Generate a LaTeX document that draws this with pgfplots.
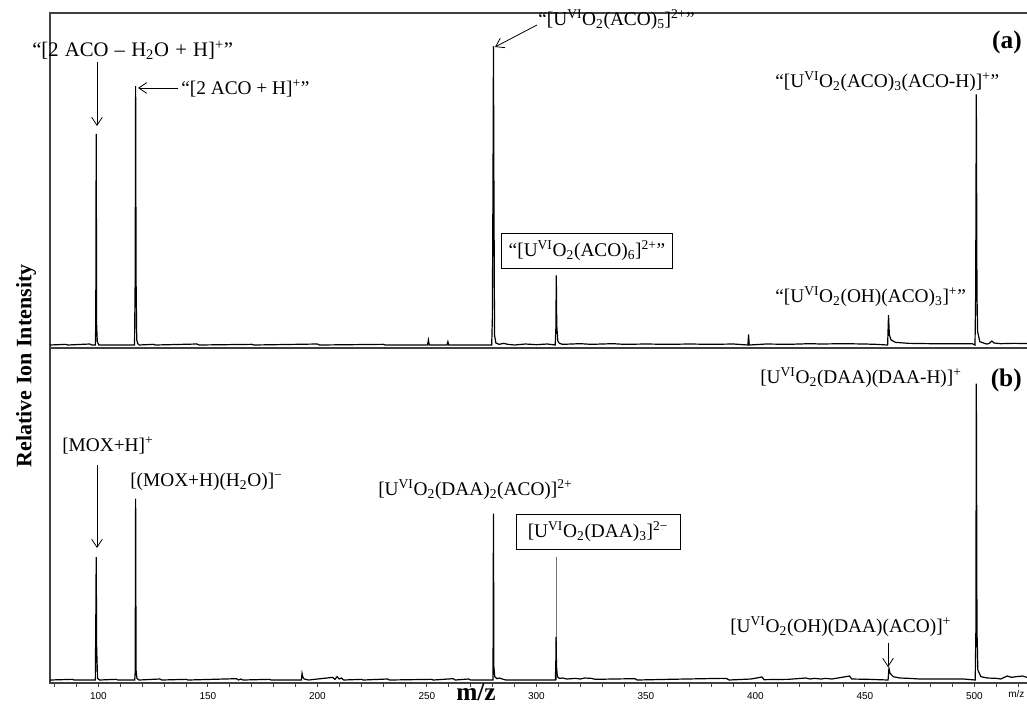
\documentclass[border=0pt]{standalone}
\usepackage{fontspec}
\setmainfont{Liberation Serif}
\newfontfamily\ticksans{Liberation Sans}
\usepackage{pgfplots}
\pgfplotsset{compat=1.18}
\usetikzlibrary{arrows.meta}
\newcommand{\UO}{U\textsuperscript{VI}O\textsubscript{2}}
\newcommand{\ann}{\fontsize{14.5}{16}\selectfont}
\newcommand{\ws}{\ \hspace{0.8pt}}
\begin{document}
\begin{tikzpicture}
\path[use as bounding box] (0,0) rectangle (770.25pt,529.5pt);
\pgfplotsset{
  panel/.style={
    scale only axis, width=738.75pt, height=251.25pt,
    xmin=77.9, xmax=527.7, ymin=-0.9, ymax=100,
    ytick=\empty,
    axis line style={black!75, line width=0.9pt},
    clip=true,
  },
}
% ---------------- panel (a)
\begin{axis}[panel, at={(37.5pt,268.5pt)}, anchor=south west, xtick=\empty]
\addplot[black, line width=0.9pt, sharp plot] coordinates {
(77.9,0) (85,0.2) (86,0) (96,0.3) (97,0) (98.6,0) (98.8,6) (99,63.6) (99.2,6) (99.5,1) (100.2,0)
(116.5,0) (116.8,20) (117,78) (117.2,20) (117.5,1.5) (118,0.4) (118.6,0)
(125,0.2) (126,0) (145,0.3) (146,0) (170,0.2) (171,0) (200,0.3) (201,0) (230,0.2) (231,0)
(250.3,0) (250.7,1.5) (251.1,0) (259.2,0) (259.6,1) (260,0)
(279.6,0) (279.9,8) (280.2,50) (280.4,90) (280.6,50) (280.9,3) (281.5,0.6) (283,0.2) (285,0.5) (287,0.2) (290,0)
(295,0.3) (300,0.1) (305,0.3) (308.6,0) (308.9,5) (309.1,21) (309.3,6) (309.8,1.2) (310.5,0.5) (312,0.2)
(320,0.4) (325,0.2) (335,0.4) (340,0.2) (350,0.3) (360,0.2) (370,0.3) (380,0.2) (390,0.3)
(396.6,0) (396.9,3.2) (397.2,0) (405,0.3) (415,0.2) (425,0.4) (430,0.3) (440,0.4) (450,0.3) (455,0.2)
(460.4,0) (460.8,9) (461.2,3) (462,1.5) (464,0.8) (470,0.5) (480,0.4) (490,0.4) (499,0.4)
(500.3,0) (500.6,15) (500.9,75.5) (501.2,15) (501.5,4) (502.5,1) (505,0.4) (506,0.3)
(507,0.6) (508,1.2) (509,0.6) (512,0.4) (518,0.5) (527.7,0.4)
};
\end{axis}
% ---------------- panel (b)
\begin{axis}[panel, at={(37.5pt,17.25pt)}, anchor=south west,
  xtick={100,150,...,500}, minor xtick={80,90,...,520},
  tick align=outside, xtick pos=bottom,
  major tick length=2.8pt, minor tick length=2.8pt,
  every tick/.style={black!75, line width=0.6pt},
  /pgf/number format/assume math mode=true,
  xticklabel style={font=\ticksans\fontsize{7.5}{9}\selectfont, yshift=-1pt},
]
\addplot[black!55, line width=0.6pt] coordinates {(309,0) (309,37)};
\addplot[black, line width=0.9pt, sharp plot] coordinates {
(77.9,0) (88,0.2) (89,0) (98.6,0) (98.8,16) (99,37) (99.2,10) (99.6,0.5) (100.5,0)
(108,0.2) (109,0) (116.6,0) (116.8,2.4) (117,54.6) (117.2,3) (117.6,0.5) (118.5,0)
(128,0.3) (129,0) (140,0.2) (141,0) (163,0.4) (164,0) (165,0.3) (166,0) (178,0.2) (179,0)
(192.7,0) (193,2) (193.4,0.8) (194,0.3) (196,0) (207,0.8) (208,0.2) (209,1) (210,0.3) (211,0.6) (212,0)
(220,0.2) (221,0) (232,0.3) (233,0) (252,0.2) (253,0) (262,0.4) (263,0) (269,0.3) (270,0)
(280.2,0) (280.4,50.1) (280.6,4) (281,1) (282,0.4) (283,0.6) (285,0.2) (286,0)
(308.7,0) (308.9,6) (309,13) (309.2,4) (309.6,1) (310.5,0.5) (312,0.6) (314,0.3) (318,0.5) (320,0.3) (322,0.6) (325,0.5) (327,0.2)
(335,0.3) (345,0.4) (346,0) (360,0.2) (385,0.5) (387,0.4) (388,0) (398,0.3) (403,0.9) (404,0.1)
(415,0.2) (423,0.6) (425,0.3) (427,0.5) (430,0.3) (432,0.5) (435,0.3) (443,1.2) (444,0.3) (452,0.2)
(460.6,0) (461,3.5) (461.5,2) (463,1) (466,0.6) (470,0.5) (475,0.3) (485,0.3) (495,0.3)
(500.4,0) (500.7,15) (500.9,89.3) (501.2,15) (501.6,3) (503,1) (506,0.6) (510,0.5) (512,0.3)
(515,1.2) (517,0.8) (519,1) (522,1.2) (524,0.8) (527.7,1)
};
\end{axis}
% ---------------- annotations (pixel grid of the reference)
\begin{scope}[x=0.75pt, y=-0.75pt, yshift=529.5pt,
  arr/.style={-{Straight Barb[length=6pt,width=8pt]}, line width=0.6pt}]
% y label and x label
\node[rotate=90, font=\bfseries\fontsize{16.5}{18}\selectfont] at (26,366) {Relative Ion Intensity};
\node[anchor=base, font=\bfseries\fontsize{19}{21}\selectfont, inner sep=0pt] at (476,701) {m/z};
\node[anchor=west, font=\ticksans\fontsize{7.5}{9}\selectfont, inner sep=0pt] at (1008,694) {m/z};
% panel (a)
\node[anchor=east, font=\bfseries\fontsize{19}{21}\selectfont, inner sep=0pt] at (1022,42) {(a)};
\node[anchor=west, inner sep=0pt, font=\fontsize{15.5}{17}\selectfont] at (32,50) {“[2\ws ACO\ws –\ws H\textsubscript{2}O\ws +\ws H]\textsuperscript{+}”};
\draw[arr] (97,62) -- (97,126);
\draw[arr] (178,88) -- (138,88);
\node[anchor=west, inner sep=0pt, font=\ann] at (181,88) {“[2 ACO + H]\textsuperscript{+}”};
\draw[arr] (537,25) -- (495,47);
\node[anchor=west, inner sep=0pt, font=\ann] at (538,20) {“[\UO(ACO)\textsubscript{5}]\textsuperscript{2+}”};
\node[anchor=west, inner sep=0pt, font=\ann] at (775,82) {“[\UO(ACO)\textsubscript{3}(ACO-H)]\textsuperscript{+}”};
\node[draw, line width=0.7pt, minimum width=171*0.75pt, minimum height=35*0.75pt, inner sep=2pt, font=\ann] at (587,251) {“[\UO(ACO)\textsubscript{6}]\textsuperscript{2+}”};
\node[anchor=west, inner sep=0pt, font=\ann] at (775,297) {“[\UO(OH)(ACO)\textsubscript{3}]\textsuperscript{+}”};
% panel (b)
\node[anchor=east, font=\bfseries\fontsize{19}{21}\selectfont, inner sep=0pt] at (1022,380) {(b)};
\node[anchor=west, inner sep=0pt, font=\ann] at (760,378) {[\UO(DAA)(DAA-H)]\textsuperscript{+}};
\node[anchor=west, inner sep=0pt, font=\ann] at (62,445) {[MOX+H]\textsuperscript{+}};
\draw[arr] (97,465) -- (97,548);
\node[anchor=west, inner sep=0pt, font=\ann] at (130,482) {[(MOX+H)(H\textsubscript{2}O)]\textsuperscript{−}};
\node[anchor=west, inner sep=0pt, font=\ann] at (378,490) {[\UO(DAA)\textsubscript{2}(ACO)]\textsuperscript{2+}};
\node[draw, line width=0.7pt, minimum width=164*0.75pt, minimum height=35*0.75pt, inner sep=2pt, font=\ann] at (598,532) {[\UO(DAA)\textsubscript{3}]\textsuperscript{2−}};
\node[anchor=west, inner sep=0pt, font=\ann] at (730,627) {[\UO(OH)(DAA)(ACO)]\textsuperscript{+}};
\draw[arr] (888,643) -- (888,667);
\end{scope}
\end{tikzpicture}
\end{document}
